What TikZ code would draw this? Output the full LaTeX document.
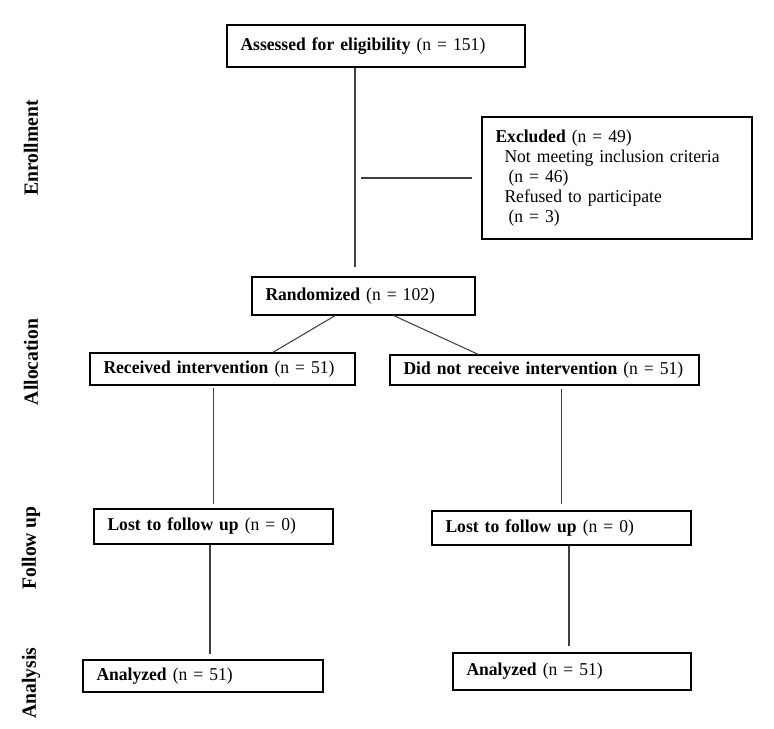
\documentclass[tikz,border=0pt]{standalone}
\usepackage{fontspec}
\setmainfont{Liberation Serif}[FakeStretch=0.97]
\usepackage{tikz}
\usepackage{xcolor}

\begin{document}
\begin{tikzpicture}[x=0.02cm, y=-0.02cm,
  font=\fontsize{10.3}{11.4}\selectfont,
  flowbox/.style={draw=black, line width=0.8pt, inner xsep=0.27cm, inner ysep=0pt, align=left},
  link/.style={draw=black!75, line width=0.6pt},
  phase/.style={rotate=90, font=\fontsize{11.5}{13}\selectfont\bfseries}]
  % White page of the same size as the reference
  \fill[white] (0,0) rectangle (774,729);
  \useasboundingbox (0,0) rectangle (774,729);

  % Phase labels on the left
  \node[phase] (enrol) at (31,148) {Enrollment};
  \node[phase] (alloc) at (31,362) {Allocation};
  \node[phase] (follow) at (31,548) {Follow up};
  \node[phase] (analys) at (31,683) {Analysis};

  % Enrollment
  \node[flowbox, text width=5.42cm, minimum height=0.84cm] (assess) at (376,46)
    {\textbf{Assessed for eligibility} (n = 151)};
  \node[flowbox, text width=4.86cm, minimum height=2.44cm] (excl) at (617,178)
    {\textbf{Excluded} (n = 49)\\
     \hspace*{0.18cm}Not meeting inclusion criteria\\
     \hspace*{0.26cm}(n = 46)\\
     \hspace*{0.18cm}Refused to participate\\
     \hspace*{0.26cm}(n = 3)};
  \node[flowbox, text width=3.92cm, minimum height=0.76cm] (rand) at (363.5,296)
    {\textbf{Randomized} (n = 102)};

  % Allocation
  \node[flowbox, text width=4.76cm, minimum height=0.64cm] (recv) at (222.5,369)
    {\textbf{Received intervention} (n = 51)};
  \node[flowbox, text width=5.64cm, minimum height=0.60cm] (norecv) at (544.5,370)
    {\textbf{Did not receive intervention} (n = 51)};

  % Follow up
  \node[flowbox, text width=4.24cm, minimum height=0.70cm] (lostL) at (213.5,526.5)
    {\textbf{Lost to follow up} (n = 0)};
  \node[flowbox, text width=4.64cm, minimum height=0.68cm] (lostR) at (561.5,528)
    {\textbf{Lost to follow up} (n = 0)};

  % Analysis
  \node[flowbox, text width=4.26cm, minimum height=0.64cm] (anaL) at (203,676)
    {\textbf{Analyzed} (n = 51)};
  \node[flowbox, text width=4.22cm, minimum height=0.74cm] (anaR) at (572,671.5)
    {\textbf{Analyzed} (n = 51)};

  % Connectors
  \coordinate (trunk) at (355,0);
  \draw[link, shorten >=0.18cm] (assess.south -| trunk) -- (rand.north -| trunk);
  \draw[link, shorten <=0.12cm, shorten >=0.18cm] (excl.west -| trunk) -- (excl.west);
  \draw[link] ([xshift=-0.57cm]rand.south) -- ([xshift=1.01cm]recv.north);
  \draw[link] ([xshift=0.61cm]rand.south) -- ([xshift=-1.33cm]norecv.north);
  \draw[link, shorten <=0.04cm, shorten >=0.08cm] (recv.south -| lostL.north) -- (lostL.north);
  \draw[link, shorten <=0.06cm, shorten >=0.12cm] (norecv.south -| lostR.north) -- (lostR.north);
  \draw[link, shorten >=0.1cm] ([xshift=-0.07cm]lostL.south) -- ([xshift=-0.07cm]lostL.south |- anaL.north);
  \draw[link, shorten >=0.12cm] ([xshift=0.15cm]lostR.south) -- ([xshift=0.15cm]lostR.south |- anaR.north);
\end{tikzpicture}
\end{document}
